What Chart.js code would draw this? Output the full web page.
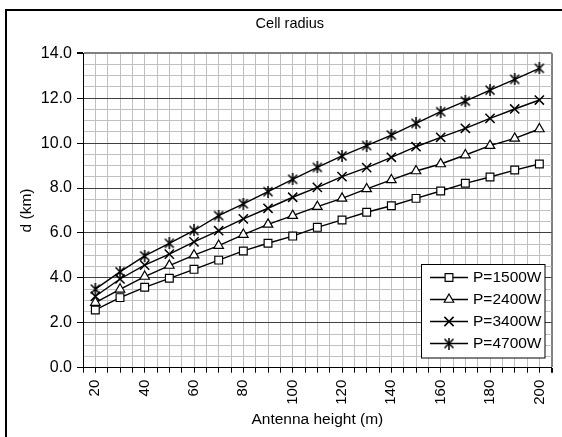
<!DOCTYPE html>
<html><head><meta charset="utf-8">
<script src="https://cdn.jsdelivr.net/npm/chart.js@4/dist/chart.umd.min.js"></script>
<style>html,body{margin:0;padding:0;background:#fff}canvas{display:block}</style>
</head><body>
<canvas id="c" width="562" height="437"></canvas>
<script>
// ---- data ----
const heights = [20,30,40,50,60,70,80,90,100,110,120,130,140,150,160,170,180,190,200];
const p1500 = [2.57,3.12,3.58,3.98,4.38,4.79,5.20,5.54,5.86,6.25,6.58,6.92,7.21,7.54,7.87,8.21,8.49,8.80,9.07];
const p2400 = [2.90,3.49,4.06,4.55,5.01,5.44,5.93,6.38,6.77,7.17,7.54,7.96,8.36,8.76,9.07,9.47,9.89,10.21,10.63];
const p3400 = [3.18,3.95,4.57,5.06,5.60,6.10,6.63,7.10,7.59,8.03,8.51,8.91,9.37,9.84,10.26,10.66,11.10,11.52,11.92];
const p4700 = [3.50,4.27,4.98,5.54,6.11,6.77,7.30,7.84,8.39,8.92,9.43,9.89,10.36,10.88,11.40,11.87,12.36,12.84,13.33];
const seriesLabels = ['P=1500W','P=2400W','P=3400W','P=4700W'];
const xTickLabels = [20,40,60,80,100,120,140,160,180,200];
const yTickLabels = [0,2,4,6,8,10,12,14];

const FONT = '"Liberation Sans", Arial, sans-serif';

// asterisk marker (x with vertical stroke)
function makeAsterisk(){
  const c = document.createElement('canvas');
  c.width = 12; c.height = 12;
  const g = c.getContext('2d');
  g.strokeStyle = '#000'; g.lineWidth = 1.5;
  g.beginPath();
  g.moveTo(1.5,1.5); g.lineTo(10.5,10.5);
  g.moveTo(10.5,1.5); g.lineTo(1.5,10.5);
  g.moveTo(6,0); g.lineTo(6,12);
  g.stroke();
  return c;
}
const asterisk = makeAsterisk();

const toXY = arr => heights.map((h,i)=>({x:h, y:arr[i]}));
const styles = ['rect','triangle','crossRot',asterisk];
const radii = [5.5,5.5,6.5,6];
const pbw = [1.2,1.2,1.5,1.5];
const series = [p1500,p2400,p3400,p4700];

const datasets = series.map((s,i)=>({
  label: seriesLabels[i],
  data: toXY(s),
  borderColor:'#000',
  borderWidth:1.4,
  backgroundColor:'#fff',
  pointStyle: styles[i],
  pointRadius: radii[i],
  pointHoverRadius: radii[i],
  pointBorderColor:'#000',
  pointBackgroundColor:'#fff',
  pointBorderWidth:pbw[i],
  tension:0,
  fill:false
}));

const frame = {
  id:'frame',
  beforeDraw(chart){
    const ctx = chart.ctx;
    ctx.save();
    ctx.fillStyle = '#fff';
    ctx.fillRect(0,0,chart.width,chart.height);
    ctx.strokeStyle = '#000'; ctx.lineWidth = 2;
    ctx.beginPath();
    ctx.moveTo(6, chart.height); ctx.lineTo(6, 10); ctx.lineTo(chart.width, 10);
    ctx.stroke();
    ctx.restore();
  }
};

const boxLegend = {
  id:'boxLegend',
  afterDraw(chart){
    const ctx = chart.ctx;
    ctx.save();
    const bx = 421.5, by = 264.5, bw = 123.5, bh = 93.5;
    ctx.fillStyle = '#fff'; ctx.fillRect(bx,by,bw,bh);
    ctx.strokeStyle = '#000'; ctx.lineWidth = 1; ctx.strokeRect(bx,by,bw,bh);
    chart.data.datasets.forEach((ds,i)=>{
      const y = Math.round(276.5 + i*22.2) + 0.5;
      ctx.strokeStyle = '#000'; ctx.lineWidth = 1.4;
      ctx.beginPath(); ctx.moveTo(430,y); ctx.lineTo(468,y); ctx.stroke();
      ctx.fillStyle = '#fff'; ctx.strokeStyle = '#000'; ctx.lineWidth = ds.pointBorderWidth;
      Chart.helpers.drawPoint(ctx, {pointStyle: ds.pointStyle, radius: ds.pointRadius, borderWidth: ds.pointBorderWidth, rotation: 0}, 449, y);
      ctx.fillStyle = '#000';
      ctx.font = '15.5px ' + FONT;
      ctx.textBaseline = 'middle'; ctx.textAlign = 'left';
      ctx.fillText(ds.label, 473, y);
    });
    ctx.restore();
  }
};

new Chart(document.getElementById('c'), {
  type:'line',
  data:{ datasets },
  plugins:[frame, boxLegend],
  options:{
    responsive:false,
    animation:false,
    events:[],
    layout:{ padding:{ left:28, right:10.3, top:0, bottom:0 } },
    plugins:{
      legend:{ display:false },
      tooltip:{ enabled:false },
      title:{ display:true, text:'Cell radius', color:'#000',
        font:{ family:FONT, size:14.5, weight:'normal' },
        padding:{ top:15.3, bottom:20.6 } }
    },
    scales:{
      x:{
        type:'linear', min:15, max:205,
        afterFit(s){ s.height = 69.3; s.paddingLeft = 0; s.paddingRight = 0; },
        ticks:{ stepSize:5, autoSkip:false, maxRotation:90, minRotation:90, padding:7, color:'#000',
          font:{ family:FONT, size:15 },
          callback:(v)=> xTickLabels.includes(v) ? String(v) : '' },
        grid:{ drawOnChartArea:true, tickLength:5,
          color:(ctx)=> ctx.tick && ctx.tick.value === 205 ? '#808080' : (ctx.tick && ctx.tick.value === 15 ? 'rgba(0,0,0,0)' : '#c0c0c0'),
          lineWidth:(ctx)=> ctx.tick && ctx.tick.value === 205 ? 2 : 1,
          tickColor:'#000' },
        border:{ display:true, color:'#000', width:1 },
        title:{ display:true, text:'Antenna height (m)', color:'#000',
          font:{ family:FONT, size:15.5 }, padding:{ top:0, bottom:7.7 } }
      },
      y:{
        type:'linear', min:0, max:14,
        afterFit(s){ s.width = 55; s.paddingTop = 0; s.paddingBottom = 0; },
        ticks:{ stepSize:0.5, autoSkip:false, padding:5, color:'#000',
          font:{ family:FONT, size:16 },
          callback:(v)=> yTickLabels.includes(v) ? v.toFixed(1) : '' },
        grid:{ tickLength:6,
          color:(ctx)=>{ const v = ctx.tick ? ctx.tick.value : -1;
            if (v === 14) return '#808080';
            if (v === 0) return 'rgba(0,0,0,0)';
            return (v % 2 === 0) ? '#404040' : '#c0c0c0'; },
          lineWidth:(ctx)=> ctx.tick && ctx.tick.value === 14 ? 2 : 1,
          tickColor:(ctx)=> ctx.tick && ctx.tick.value % 2 === 0 ? '#000' : 'rgba(0,0,0,0)' },
        border:{ display:true, color:'#000', width:1 },
        title:{ display:true, text:'d (km)', color:'#000',
          font:{ family:FONT, size:15.5 }, padding:{ top:-10.3, bottom:0 } }
      }
    }
  }
});
</script>
</body></html>
